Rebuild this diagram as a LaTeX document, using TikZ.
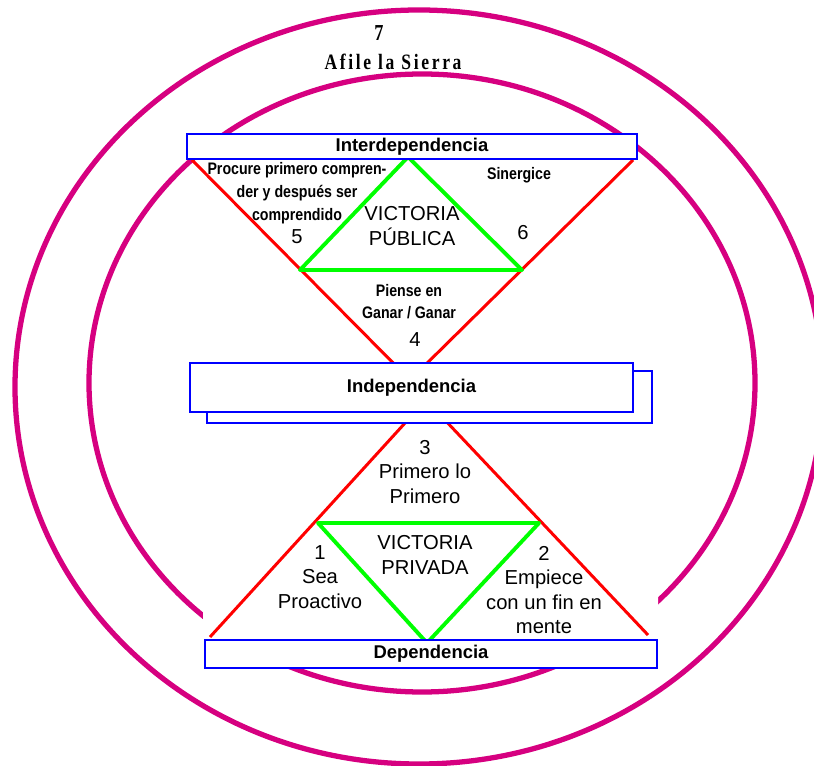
\documentclass[tikz,border=0pt]{standalone}
\usepackage{fontspec}
\setmainfont{Liberation Sans}
\newfontfamily\narrowfont[FakeStretch=0.85]{Liberation Sans}
\newfontfamily\titlefont[FakeStretch=0.8,LetterSpace=12]{Liberation Serif}
\definecolor{circlepink}{RGB}{214,0,128}

\begin{document}
\begin{tikzpicture}[x=0.02cm, y=-0.02cm,
    ring/.style={draw=circlepink, line width=3pt},
    redline/.style={draw=red, line width=1.7pt},
    greenline/.style={draw=green, line width=2.2pt, line join=round},
    levelbox/.style={draw=blue, line width=1.5pt, fill=white, inner sep=0pt,
        font=\bfseries\fontsize{10.5}{12}\selectfont},
    habit/.style={font=\fontsize{11.5}{14}\selectfont, align=center, inner sep=0pt},
    narrow/.style={font=\narrowfont\bfseries\fontsize{9.5}{13}\selectfont, align=center, inner sep=0pt},
    title/.style={font=\titlefont\bfseries\fontsize{12.5}{14}\selectfont, inner sep=0pt}]

    \useasboundingbox (0,0) rectangle (814,766);

    % the two rings
    \draw[ring] (419,387) ellipse [x radius=404, y radius=377];
    \draw[ring] (422,383) ellipse [x radius=333, y radius=309];
    \fill[white] (203,160) -- (640,160) -- (658,182) -- (658,668) -- (203,668) -- cycle;

    \coordinate (ul) at (192,160);
    \coordinate (ur) at (633,160);
    \coordinate (ll) at (210,637);
    \coordinate (lr) at (648,635);
    \coordinate (waisttop) at (410,380);
    \coordinate (waistbot) at (426,400);
    \coordinate (pub1) at (300,270);
    \coordinate (pub2) at (522,270);
    \coordinate (pubtop) at (408,157);
    \coordinate (priv1) at (318,523);
    \coordinate (priv2) at (539,523);
    \coordinate (privbot) at (427,643);

    % hourglass
    \draw[redline] (ul) -- (waisttop) -- (ur);
    \draw[redline] (ll) -- (waistbot) -- (lr);
    \draw[greenline] (pub1) -- (pubtop) -- (pub2) -- cycle;
    \draw[greenline] (priv1) -- (privbot) -- (priv2) -- cycle;

    % levels
    \node[levelbox, minimum width=8.9cm, minimum height=1.04cm] (shadow) at (429.5,397) {};
    \node[levelbox, minimum width=8.86cm, minimum height=0.98cm] (indep) at (411.5,387.5) {Independencia};
    \node[levelbox, minimum width=9cm, minimum height=0.5cm] (interdep) at (412,146.5) {Interdependencia};
    \node[levelbox, minimum width=9.04cm, minimum height=0.56cm] (dep) at (431,654) {Dependencia};

    % habits
    \node[title, font=\titlefont\bfseries\fontsize{13}{14}\selectfont] (seven) at (379,33) {7};
    \node[title] (sharpen) at (393,62) {Afile la Sierra};
    \node[narrow] (habit5) at (297,193) {Procure primero compren-\\der y después ser\\comprendido};
    \node[habit] (n5) at (297,237) {5};
    \node[habit] (pubwin) at (412,226) {VICTORIA\\PÚBLICA};
    \node[narrow] (habit6) at (519,175) {Sinergice};
    \node[habit] (n6) at (523,233) {6};
    \node[narrow, font=\narrowfont\bfseries\fontsize{9.5}{12.5}\selectfont] (habit4) at (409,302) {Piense en\\Ganar / Ganar};
    \node[habit] (n4) at (415,340) {4};
    \node[habit] (habit3) at (425,472) {3\\Primero lo\\Primero};
    \node[habit] (privwin) at (425,555) {VICTORIA\\PRIVADA};
    \node[habit] (habit1) at (320,577) {1\\Sea\\Proactivo};
    \node[habit] (habit2) at (544,590) {2\\Empiece\\con un fin en\\mente};
\end{tikzpicture}
\end{document}
